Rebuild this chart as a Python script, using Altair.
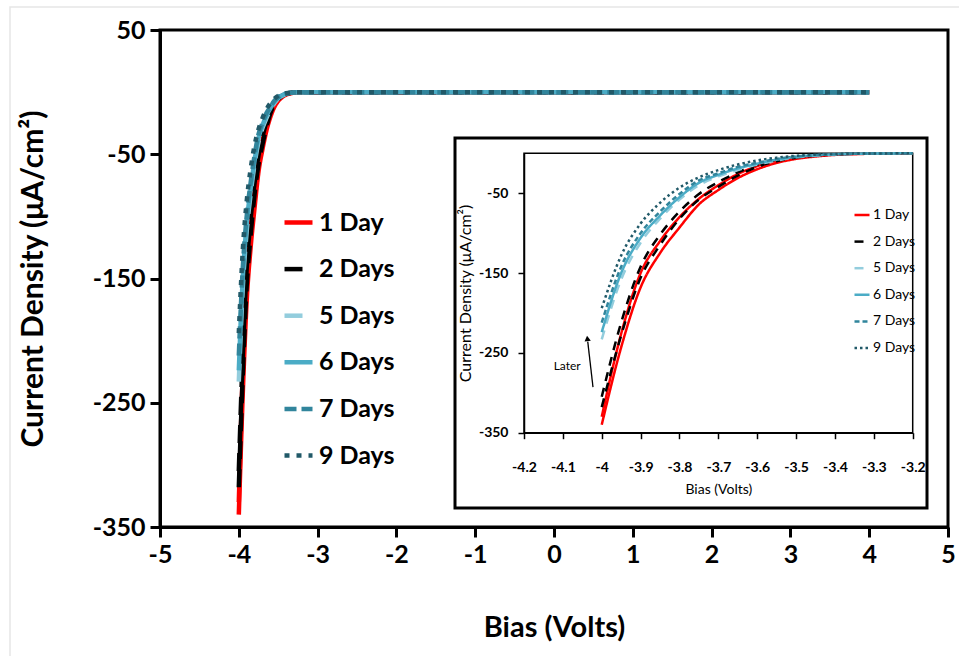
import altair as alt
import pandas as pd

# ---------------- data ----------------
bias = [-4.00, -3.95, -3.90, -3.85, -3.80, -3.75, -3.70, -3.65, -3.60, -3.55,
        -3.50, -3.45, -3.40, -3.35, -3.30, -3.25, -3.20,
        -3.0, -2.0, -1.0, 0.0, 1.0, 2.0, 3.0, 4.0]

day1_a = [-340, -243, -168, -125, -93, -64, -46, -31, -20, -12,
          -7, -4, -2, -1, -0.5, -0.2, 0, 0, 0, 0, 0, 0, 0, 0, 0]
day1_b = [-330, -226, -150, -110, -80, -57, -40, -26, -16, -9,
          -5, -3, -1.5, -0.8, -0.3, -0.1, 0, 0, 0, 0, 0, 0, 0, 0, 0]
day2_a = [-318, -228, -156, -115, -82, -58, -42, -28, -17, -10,
          -5.5, -3, -1.5, -0.7, -0.3, -0.1, 0, 0, 0, 0, 0, 0, 0, 0, 0]
day2_b = [-305, -212, -142, -102, -73, -51, -36, -24, -14, -8,
          -4.5, -2.5, -1.2, -0.6, -0.2, -0.1, 0, 0, 0, 0, 0, 0, 0, 0, 0]
day5 = [-233, -158, -112, -82, -58, -40, -29, -21, -14, -9,
        -5, -3, -1.5, -0.7, -0.3, -0.1, 0, 0, 0, 0, 0, 0, 0, 0, 0]
day6 = [-224, -150, -106, -78, -55, -37, -27, -19, -13, -8,
        -4.5, -2.5, -1.3, -0.6, -0.3, -0.1, 0, 0, 0, 0, 0, 0, 0, 0, 0]
day7 = [-212, -142, -100, -73, -51, -34, -25, -17, -12, -7,
        -4, -2.2, -1.1, -0.5, -0.2, -0.1, 0, 0, 0, 0, 0, 0, 0, 0, 0]
day9 = [-194, -128, -88, -62, -43, -30, -21, -14, -9, -5.5,
        -3, -1.7, -0.9, -0.4, -0.2, -0.1, 0, 0, 0, 0, 0, 0, 0, 0, 0]

series_names = ["1 Day", "2 Days", "5 Days", "6 Days", "7 Days", "9 Days"]
series_colors = ["#FF0000", "#000000", "#93CDDD", "#4BACC6", "#31859C", "#215968"]
main_dash = [[1, 0], [18, 10], [18, 10], [1, 0], [12, 5], [5, 7]]
inset_dash = [[1, 0], [9, 7], [9, 7], [1, 0], [5, 3], [2.5, 3]]

main_x_ticks = [-5, -4, -3, -2, -1, 0, 1, 2, 3, 4, 5]
main_y_ticks = [50, -50, -150, -250, -350]
inset_x_ticks = [-4.2, -4.1, -4.0, -3.9, -3.8, -3.7, -3.6, -3.5, -3.4, -3.3, -3.2]
inset_y_ticks = [-50, -150, -250, -350]

later_text = ["Later"]
later_x = [-4.089]
later_y = [-267]
arrow_x = [-4.0225]
arrow_y = [-293]
arrow_x2 = [-4.036]
arrow_y2 = [-236]
arrow_head_x = [-4.037]
arrow_head_y = [-232]

traces = [("1 Day", "a", day1_a), ("1 Day", "b", day1_b),
          ("2 Days", "a", day2_a), ("2 Days", "b", day2_b),
          ("5 Days", "a", day5), ("6 Days", "a", day6),
          ("7 Days", "a", day7), ("9 Days", "a", day9)]
rows = []
for name, sweep, vals in traces:
    for b, v in zip(bias, vals):
        rows.append({"series": name, "sweep": name + sweep, "bias": b, "current": v})
df = pd.DataFrame(rows)

FONT = "Lato"
W, H = 788, 497

# ---------------- main plot ----------------
main_legend = alt.Legend(title=None, orient="none", legendX=122, legendY=176,
                         symbolType="stroke", symbolSize=784, symbolStrokeWidth=4.5,
                         labelFont=FONT, labelFontSize=25, labelFontWeight="bold",
                         labelColor="black", rowPadding=16.6, labelOffset=4, padding=0)

main = alt.Chart(df).mark_line(strokeWidth=4.5, strokeCap="butt", interpolate="monotone").encode(
    x=alt.X("bias:Q", scale=alt.Scale(domain=[-5, 5], nice=False, zero=False),
            axis=alt.Axis(orient="bottom", values=main_x_ticks, title="Bias (Volts)",
                          labelExpr="'' + datum.value", labelFlush=False,
                          domainColor="black", domainWidth=3, tickColor="black",
                          tickWidth=3, tickSize=10, labelFont=FONT, labelFontSize=25,
                          labelFontWeight="bold", labelColor="black", labelPadding=5,
                          titleFont=FONT, titleFontSize=29, titleFontWeight="bold",
                          titleColor="black", titlePadding=46)),
    y=alt.Y("current:Q", scale=alt.Scale(domain=[-350, 50], nice=False, zero=False),
            axis=alt.Axis(orient="left", values=main_y_ticks,
                          title="Current Density (μA/cm²)",
                          labelExpr="'' + datum.value", labelFlush=False,
                          domainColor="black", domainWidth=3, tickColor="black",
                          tickWidth=3, tickSize=10, labelFont=FONT, labelFontSize=25,
                          labelFontWeight="bold", labelColor="black", labelPadding=5,
                          titleFont=FONT, titleFontSize=30, titleFontWeight="bold",
                          titleColor="black", titlePadding=44)),
    color=alt.Color("series:N", scale=alt.Scale(domain=series_names, range=series_colors),
                    legend=main_legend),
    strokeDash=alt.StrokeDash("series:N", scale=alt.Scale(domain=series_names, range=main_dash),
                              legend=main_legend),
    detail="sweep:N",
)

# faint outer border of the picture
outer = alt.Chart(pd.DataFrame({"k": [0]})).mark_rect(
    fillOpacity=0, stroke="#E6E6E6", strokeWidth=1.5).encode(
    x=alt.value(-150), x2=alt.value(805), y=alt.value(-23), y2=alt.value(640))

# ---------------- inset ----------------
frame = alt.Chart(pd.DataFrame({"k": [0]})).mark_rect(
    fill="white", stroke="black", strokeWidth=3).encode(
    x=alt.value(295), x2=alt.value(767), y=alt.value(108), y2=alt.value(478))


def ix():
    return alt.Scale(domain=[-4.2, -3.2], range=[364, 752.7], nice=False, zero=False)


def iy():
    return alt.Scale(domain=[-350, 0], range=[402.7, 123.3], nice=False, zero=False)


inset_legend = alt.Legend(title=None, orient="none", legendX=693, legendY=176,
                          symbolType="stroke", symbolSize=225, symbolStrokeWidth=2.5,
                          labelFont=FONT, labelFontSize=14, labelColor="black",
                          rowPadding=10.6, labelOffset=2, padding=0)

box = alt.Chart(pd.DataFrame({"x0": [-4.2], "x1": [-3.2], "y0": [-350], "y1": [0]})).mark_rect(
    fillOpacity=0, stroke="black", strokeWidth=1.5).encode(
    x=alt.X("x0:Q", scale=ix(), axis=None), x2="x1:Q",
    y=alt.Y("y0:Q", scale=iy(), axis=None), y2="y1:Q")

inset_lines = alt.Chart(df).transform_filter(alt.datum.bias <= -3.2).mark_line(
    strokeWidth=2.5, strokeCap="butt", interpolate="monotone").encode(
    x=alt.X("bias:Q", scale=ix(),
            axis=alt.Axis(orient="bottom", offset=-(H - 402.7), values=inset_x_ticks,
                          title="Bias (Volts)", labelExpr="'' + datum.value", zindex=2,
                          labelFlush=False, domainColor="black", domainWidth=1.5,
                          tickColor="black", tickWidth=1.5, tickSize=6,
                          labelFont=FONT, labelFontSize=14, labelFontWeight="bold",
                          labelColor="black", labelPadding=22,
                          titleFont=FONT, titleFontSize=14, titleFontWeight="normal",
                          titleColor="black", titlePadding=8)),
    y=alt.Y("current:Q", scale=iy(),
            axis=alt.Axis(orient="left", offset=-364, values=inset_y_ticks,
                          title="Current Density (μA/cm²)", labelExpr="'' + datum.value",
                          zindex=2,
                          labelFlush=False, domainColor="black", domainWidth=1.5,
                          tickColor="black", tickWidth=1.5, tickSize=6,
                          labelFont=FONT, labelFontSize=14, labelFontWeight="bold",
                          labelColor="black", labelPadding=10,
                          titleFont=FONT, titleFontSize=16, titleFontWeight="normal",
                          titleColor="black", titlePadding=5)),
    color=alt.Color("series:N", scale=alt.Scale(domain=series_names, range=series_colors),
                    legend=inset_legend),
    strokeDash=alt.StrokeDash("series:N", scale=alt.Scale(domain=series_names, range=inset_dash),
                              legend=inset_legend),
    detail="sweep:N",
)

later = alt.Chart(pd.DataFrame({"t": later_text, "x": later_x, "y": later_y})).mark_text(
    font=FONT, fontSize=12, color="black").encode(
    x=alt.X("x:Q", scale=ix(), axis=None), y=alt.Y("y:Q", scale=iy(), axis=None), text="t:N")

arrow = alt.Chart(pd.DataFrame({"x": arrow_x, "y": arrow_y, "x2": arrow_x2, "y2": arrow_y2})).mark_rule(
    color="black", strokeWidth=1.3).encode(
    x=alt.X("x:Q", scale=ix(), axis=None), y=alt.Y("y:Q", scale=iy(), axis=None),
    x2="x2:Q", y2="y2:Q")

head = alt.Chart(pd.DataFrame({"x": arrow_head_x, "y": arrow_head_y})).mark_point(
    shape="triangle-up", filled=True, color="black", size=40, angle=353, opacity=1).encode(
    x=alt.X("x:Q", scale=ix(), axis=None), y=alt.Y("y:Q", scale=iy(), axis=None))

chart = alt.layer(outer, main, frame, box, inset_lines, later, arrow, head).resolve_scale(
    x="independent", y="independent", color="independent", strokeDash="independent"
).resolve_legend(color="independent", strokeDash="independent").properties(
    width=W, height=H,
    autosize=alt.AutoSizeParams(type="none"),
    padding={"left": 160, "top": 30, "right": 11, "bottom": 129},
    background="white",
).configure_view(stroke="black", strokeWidth=3).configure_axis(grid=False)

chart.save("out.html", embed_options={"renderer": "svg", "actions": False})
